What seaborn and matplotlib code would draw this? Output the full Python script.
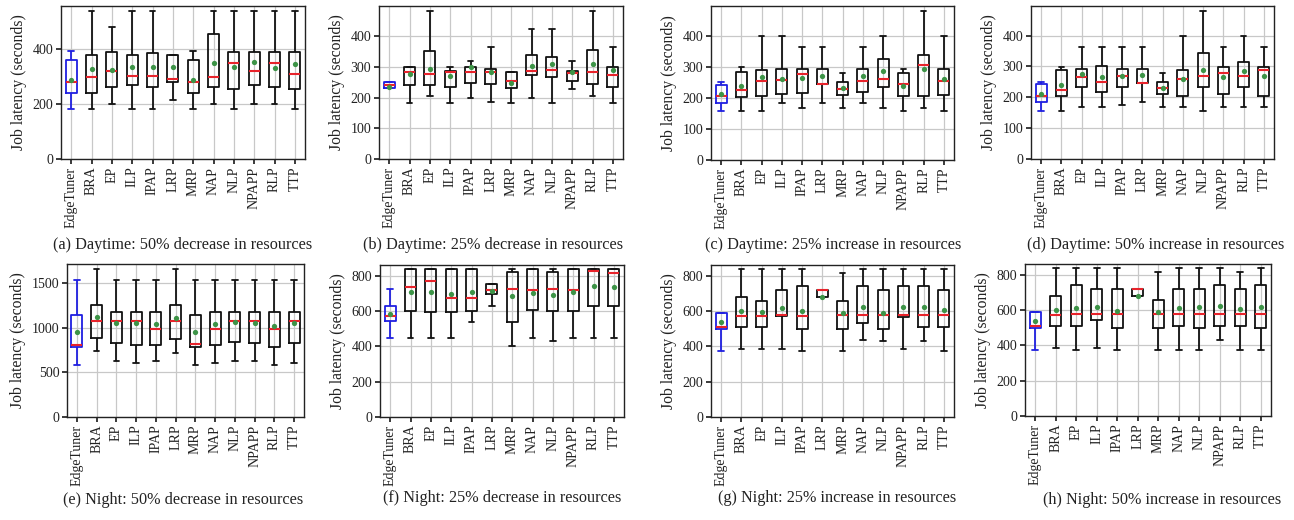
import numpy as np
import pandas as pd
import matplotlib
matplotlib.use("Agg")
import matplotlib.pyplot as plt
import seaborn as sns

categories = ["EdgeTuner", "BRA", "EP", "ILP", "IPAP", "LRP", "MRP",
              "NAP", "NLP", "NPAPP", "RLP", "TTP"]

# (a) Daytime: 50% decrease
a_lo = [182, 182, 200, 182, 182, 213, 182, 200, 182, 200, 200, 182]
a_q1 = [241, 240, 260, 269, 262, 280, 240, 262, 256, 269, 263, 256]
a_med = [281, 297, 318, 300, 300, 291, 281, 297, 347, 318, 347, 309]
a_q3 = [361, 379, 390, 378, 385, 379, 360, 455, 390, 388, 390, 390]
a_hi = [391, 538, 480, 538, 538, 379, 391, 538, 538, 538, 538, 538]
a_mean = [286, 327, 324, 335, 334, 336, 286, 347, 336, 352, 330, 345]

# (b) Daytime: 25% decrease
b_lo = [232, 183, 206, 183, 200, 185, 183, 200, 183, 228, 206, 183]
b_q1 = [232, 241, 241, 234, 247, 245, 232, 272, 268, 255, 245, 234]
b_med = [241, 283, 278, 283, 283, 283, 253, 286, 290, 280, 283, 275]
b_q3 = [251, 299, 351, 288, 299, 292, 282, 337, 332, 286, 354, 299]
b_hi = [251, 299, 483, 299, 320, 365, 282, 423, 423, 320, 483, 363]
b_mean = [234, 276, 294, 269, 299, 283, 246, 302, 308, 282, 310, 289]

# (c) Daytime: 25% increase
c_lo = [157, 157, 157, 185, 168, 185, 168, 185, 168, 157, 168, 157]
c_q1 = [184, 203, 207, 213, 217, 245, 210, 220, 235, 207, 205, 210]
c_med = [205, 225, 255, 259, 277, 245, 230, 255, 262, 244, 305, 255]
c_q3 = [243, 285, 290, 292, 292, 292, 250, 292, 325, 281, 337, 292]
c_hi = [250, 299, 400, 400, 363, 363, 280, 363, 400, 292, 480, 400]
c_mean = [212, 239, 266, 261, 265, 272, 231, 270, 286, 239, 293, 262]

# (d) Daytime: 50% increase
d_lo = [157, 157, 168, 168, 175, 185, 168, 168, 157, 168, 168, 168]
d_q1 = [184, 205, 235, 217, 235, 245, 212, 205, 235, 212, 235, 205]
d_med = [205, 225, 267, 250, 268, 245, 231, 258, 268, 278, 268, 290]
d_q3 = [243, 290, 292, 300, 292, 292, 250, 290, 345, 297, 315, 297]
d_hi = [250, 299, 363, 363, 363, 363, 280, 400, 480, 363, 400, 363]
d_mean = [212, 240, 275, 267, 268, 272, 230, 258, 288, 265, 284, 270]

# (e) Night: 50% decrease
e_lo = [585, 735, 625, 610, 625, 720, 585, 610, 625, 625, 585, 610]
e_q1 = [780, 880, 830, 810, 810, 875, 780, 810, 835, 830, 780, 830]
e_med = [810, 1075, 1075, 1075, 985, 1075, 815, 990, 1075, 1075, 985, 1075]
e_q3 = [1140, 1260, 1180, 1180, 1180, 1260, 1140, 1180, 1180, 1180, 1180, 1180]
e_hi = [1540, 1660, 1540, 1540, 1540, 1660, 1540, 1540, 1540, 1540, 1540, 1540]
e_mean = [950, 1120, 1050, 1055, 1040, 1110, 950, 1040, 1065, 1050, 1020, 1050]

# (f) Night: 25% decrease
f_lo = [450, 450, 450, 450, 540, 630, 405, 450, 430, 450, 450, 450]
f_q1 = [545, 600, 595, 595, 600, 700, 540, 605, 600, 600, 630, 630]
f_med = [570, 735, 770, 675, 675, 720, 725, 720, 725, 720, 825, 815]
f_q3 = [630, 840, 840, 840, 840, 755, 820, 840, 820, 840, 840, 840]
f_hi = [725, 840, 840, 840, 840, 755, 840, 840, 840, 840, 840, 840]
f_mean = [585, 710, 708, 695, 710, 715, 685, 705, 690, 708, 740, 738]

# (g) Night: 25% increase
g_lo = [375, 385, 385, 385, 375, 678, 375, 435, 430, 385, 430, 375]
g_q1 = [500, 510, 508, 572, 498, 678, 498, 535, 498, 565, 512, 508]
g_med = [510, 572, 575, 578, 572, 720, 580, 578, 578, 578, 578, 578]
g_q3 = [590, 680, 660, 720, 745, 720, 660, 745, 720, 745, 745, 720]
g_hi = [590, 838, 838, 838, 838, 720, 815, 838, 838, 838, 838, 838]
g_mean = [540, 600, 595, 617, 598, 680, 590, 622, 592, 625, 622, 605]

# (h) Night: 50% increase
h_lo = [375, 385, 375, 385, 375, 678, 375, 375, 375, 430, 375, 375]
h_q1 = [500, 512, 512, 542, 498, 678, 498, 510, 498, 510, 510, 498]
h_med = [510, 575, 580, 580, 578, 720, 580, 578, 580, 580, 580, 578]
h_q3 = [590, 680, 745, 720, 720, 720, 660, 720, 720, 745, 720, 745]
h_hi = [590, 838, 838, 838, 838, 720, 815, 838, 838, 838, 815, 838]
h_mean = [540, 600, 610, 620, 595, 680, 592, 610, 615, 622, 608, 615]

captions = [
    "(a) Daytime: 50% decrease in resources",
    "(b) Daytime: 25% decrease in resources",
    "(c) Daytime: 25% increase in resources",
    "(d) Daytime: 50% increase in resources",
    "(e) Night: 50% decrease in resources",
    "(f) Night: 25% decrease in resources",
    "(g) Night: 25% increase in resources",
    "(h) Night: 50% increase in resources",
]
yticks_list = [
    [0, 200, 400],
    [0, 100, 200, 300, 400],
    [0, 100, 200, 300, 400],
    [0, 100, 200, 300, 400],
    [0, 500, 1000, 1500],
    [0, 200, 400, 600, 800],
    [0, 200, 400, 600, 800],
    [0, 200, 400, 600, 800],
]
panels = [
    (a_lo, a_q1, a_med, a_q3, a_hi, a_mean),
    (b_lo, b_q1, b_med, b_q3, b_hi, b_mean),
    (c_lo, c_q1, c_med, c_q3, c_hi, c_mean),
    (d_lo, d_q1, d_med, d_q3, d_hi, d_mean),
    (e_lo, e_q1, e_med, e_q3, e_hi, e_mean),
    (f_lo, f_q1, f_med, f_q3, f_hi, f_mean),
    (g_lo, g_q1, g_med, g_q3, g_hi, g_mean),
    (h_lo, h_q1, h_med, h_q3, h_hi, h_mean),
]

W, H = 1294, 520
# axes boxes in pixels: left, right, top, bottom
boxes_px = [
    (61, 305, 6, 159), (379, 623, 6, 159), (711, 954, 6, 160), (1031, 1274, 6, 159),
    (67, 304, 264, 417), (380, 624, 265, 417), (711, 954, 265, 417), (1025, 1271, 264, 416),
]
caption_px = [
    (183, 245), (493, 245), (833, 245), (1156, 245),
    (183, 500), (502, 498), (837, 498), (1162, 500),
]

sns.set_theme(style="whitegrid")
plt.rcParams.update({
    "axes.edgecolor": "#222222",
    "axes.linewidth": 1.0,
    "grid.color": "#c8c8c8",
    "grid.linewidth": 0.9,
    "xtick.bottom": True,
    "ytick.left": True,
    "xtick.major.size": 3.5,
    "ytick.major.size": 3.5,
    "xtick.color": "#222222",
    "ytick.color": "#222222",
    "text.color": "#222222",
    "axes.labelcolor": "#222222",
})
plt.rcParams["font.family"] = ["Liberation Serif", "DejaVu Serif"]

fig = plt.figure(figsize=(W / 100, H / 100), dpi=100)

palette = {c: ("#1f1fe0" if c == "EdgeTuner" else "#111111") for c in categories}
green = "#3d9447"
red = "#e8232b"

for i, (vals, cap, yt) in enumerate(zip(panels, captions, yticks_list)):
    lo, q1, med, q3, hi, mean = vals
    l, r, t, b = boxes_px[i]
    ax = fig.add_axes([l / W, 1 - b / H, (r - l) / W, (b - t) / H])
    df = pd.DataFrame({
        "method": np.repeat(categories, 5),
        "latency": np.column_stack([lo, q1, med, q3, hi]).ravel(),
    })
    sns.boxplot(data=df, x="method", y="latency", hue="method",
                order=categories, hue_order=categories, palette=palette,
                fill=False, width=0.55, whis=(0, 100), showfliers=False,
                linewidth=1.3, medianprops={"color": red, "linewidth": 1.5},
                legend=False, ax=ax)
    sns.stripplot(x=categories, y=mean, order=categories, jitter=False,
                  color=green, size=3.8, zorder=5, ax=ax)
    ax.set_ylim(bottom=0)
    ax.set_yticks(yt)
    ax.set_xlabel("")
    ax.set_ylabel("Job latency (seconds)", fontsize=11.3)
    ax.tick_params(axis="x", labelrotation=90, labelsize=10, pad=2)
    ax.tick_params(axis="y", labelsize=10, pad=2)
    ax.grid(True, axis="both")
    ax.set_axisbelow(True)
    for s in ax.spines.values():
        s.set_visible(True)
        s.set_color("#222222")
    cx, cy = caption_px[i]
    fig.text(cx / W, 1 - cy / H, cap, ha="center", va="center", fontsize=11.7)

fig.savefig("out.png", dpi=100)
